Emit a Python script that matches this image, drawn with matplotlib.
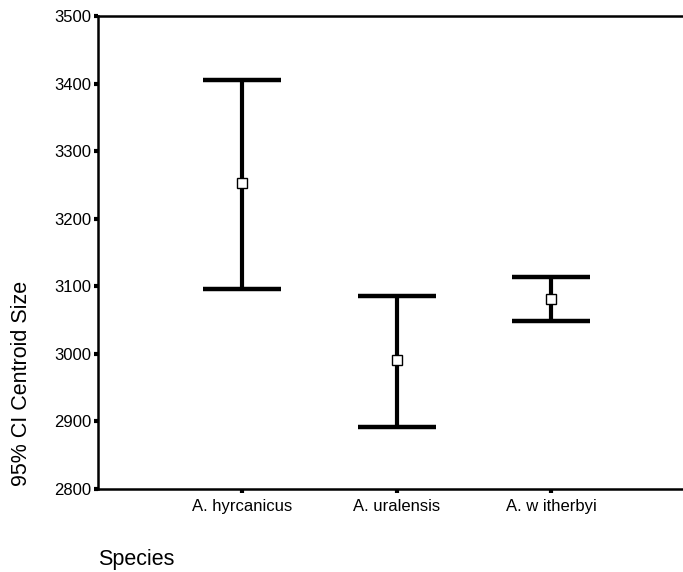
import matplotlib.pyplot as plt

plt.rcParams['font.family'] = ['Liberation Sans', 'DejaVu Sans']

# Data
species = ['A. hyrcanicus', 'A. uralensis', 'A. w itherbyi']
means = [3253, 2991, 3081]
lower = [3096, 2892, 3049]
upper = [3406, 3086, 3114]

fig = plt.figure(figsize=(6.83, 5.72), dpi=100)
ax = fig.add_axes([0.1435, 0.145, 0.8565, 0.827])

x = [1, 2, 3]
err_low = [m - l for m, l in zip(means, lower)]
err_high = [u - m for u, m in zip(upper, means)]
ax.errorbar(x, means, yerr=[err_low, err_high], fmt='none', ecolor='black',
            elinewidth=3, capsize=28, capthick=3.2)
ax.plot(x, means, 's', markersize=6.5, markerfacecolor='white',
        markeredgecolor='black', markeredgewidth=1)

ax.set_xlim(0.07, 3.85)
ax.set_ylim(2800, 3500)
ax.set_yticks(range(2800, 3501, 100))
ax.set_xticks(x)
ax.set_xticklabels(species, fontsize=12)
ax.tick_params(axis='y', labelsize=12, length=3, width=3, pad=2)
ax.tick_params(axis='x', length=3, width=3, pad=4)

for side in ['left', 'top', 'bottom']:
    ax.spines[side].set_linewidth(1.8)
ax.spines['right'].set_visible(False)

fig.text(0.032, 0.329, '95% CI Centroid Size', rotation=90, va='center',
         ha='center', fontsize=15.5)
fig.text(0.1435, 0.012, 'Species', ha='left', va='baseline', fontsize=15.5)

fig.savefig('out.png', dpi=100)
